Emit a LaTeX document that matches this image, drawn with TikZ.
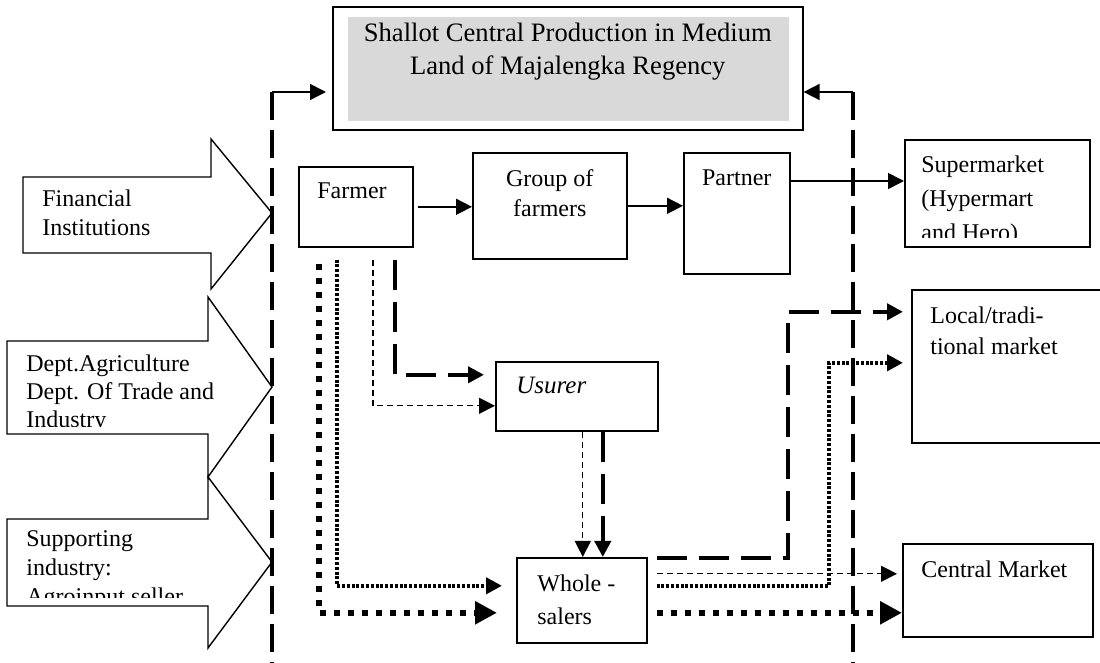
\documentclass[tikz,border=0pt]{standalone}
\usepackage{fontspec}
\setmainfont{Liberation Serif}
\usetikzlibrary{arrows.meta,positioning}
\definecolor{titlegray}{HTML}{D9D9D9}

\begin{document}
\begin{tikzpicture}[
    x = 0.5pt, y = -0.5pt, % pixel grid, y going down
    > = {Triangle[length=8pt,width=8pt]}, % arrow head style
    box/.style = {draw, line width=0.8pt, anchor=north west, inner sep=0pt},
    txt/.style = {font=\fontsize{12}{15}\selectfont, inner sep=0pt, align=left},
    flow/.style = {line width=0.8pt},
    boundary/.style = {line width=2.3pt, dash pattern=on 14pt off 5pt},
    longdash/.style = {line width=2.2pt, dash pattern=on 15pt off 6pt},
    thindash/.style = {line width=0.6pt, dash pattern=on 3pt off 2pt},
    densedot/.style = {line width=2pt, dash pattern=on 1.5pt off 0.9pt},
    bigdot/.style = {line width=3pt, dash pattern=on 3pt off 4pt},
    bigarrow/.style = {draw, line width=0.7pt, fill=white}
  ]
  \useasboundingbox (0,0) rectangle (1100,663);

  % supporting institutions
  \draw[bigarrow] (23,177) -- (211,177) -- (211,139) -- (272,213) -- (211,289) -- (211,253) -- (23,253) -- cycle;
  \draw[bigarrow] (7,341) -- (208,341) -- (208,297) -- (272,387) -- (208,477) -- (208,434) -- (7,434) -- cycle;
  \draw[bigarrow] (7,519) -- (208,519) -- (208,477) -- (272,562) -- (208,648) -- (208,606) -- (7,606) -- cycle;
  \node[txt, font=\fontsize{12}{14.5}\selectfont, anchor=north west] (fin) at (42,189) {Financial\\Institutions};
  \begin{scope}
    \clip (0,300) rectangle (260,427);
    \node[txt, font=\fontsize{12}{14}\selectfont, anchor=north west] (dept) at (26,354) {Dept.Agriculture\\Dept. Of Trade and\\Industry};
  \end{scope}
  \begin{scope}
    \clip (0,480) rectangle (260,598);
    \node[txt, font=\fontsize{12}{14.5}\selectfont, anchor=north west] (supp) at (26,530) {Supporting\\industry:\\Agroinput seller};
  \end{scope}

  % production centre
  \node[box, minimum width=235pt, minimum height=61.5pt] (title) at (332,6) {};
  \fill[titlegray] ([shift={(8pt,-5.5pt)}]title.north west) rectangle ([shift={(-7.5pt,5pt)}]title.south east);
  \node[txt, font=\fontsize{13.3}{16.5}\selectfont, align=center, below=8.5pt of title.north] {Shallot Central Production in Medium\\Land of Majalengka Regency};

  % region boundary
  \coordinate (lb) at (272,663);
  \coordinate (lt) at (272,92);
  \coordinate (rb) at (853,663);
  \coordinate (rt) at (853,92);
  \draw[boundary] (lt) -- (lb);
  \draw[boundary] (rt) -- (rb);
  \draw[flow,->,shorten >=3pt] (lt) -- (lt -| title.west);
  \draw[flow,->] (rt) -- (rt -| title.east);

  % actors
  \node[box, minimum width=57pt, minimum height=40pt] (farmer) at (298,166) {};
  \node[box, minimum width=77pt, minimum height=53pt] (group) at (472,152) {};
  \node[box, minimum width=53pt, minimum height=60.5pt] (partner) at (683,152) {};
  \node[box, minimum width=92.5pt, minimum height=53.5pt] (super) at (904,139) {};
  \node[box, minimum width=81pt, minimum height=34.5pt] (usurer) at (495,361) {};
  \node[box, minimum width=65pt, minimum height=42.5pt] (whole) at (516,557) {};
  \node[box, minimum width=97.5pt, minimum height=76.5pt] (local) at (911,289) {};
  \node[box, minimum width=95pt, minimum height=46.5pt] (central) at (902,543) {};

  \node[txt, below right=8pt and 9.5pt of farmer.north west] {Farmer};
  \node[txt, align=center, below=8.5pt of group.north] {Group of\\farmers};
  \node[txt, below=8.5pt of partner.north] {Partner};
  \begin{scope}
    \clip (super.north west) rectangle ([yshift=5pt]super.south east);
    \node[txt, font=\fontsize{12}{17}\selectfont, below right=8pt and 8.5pt of super.north west] {Supermarket\\(Hypermart\\and Hero)};
  \end{scope}
  \node[txt, font=\fontsize{12.5}{15}\itshape, below right=8pt and 10.5pt of usurer.north west] {Usurer};
  \node[txt, font=\fontsize{12}{16.5}\selectfont, below right=8.5pt and 10.5pt of whole.north west] {Whole -\\salers};
  \node[txt, font=\fontsize{12}{15.5}\selectfont, below right=8.5pt and 9.5pt of local.north west] {Local/tradi-\\tional market};
  \node[txt, below right=8.5pt and 9.5pt of central.north west] {Central Market};

  % channels
  \coordinate (pout) at ([yshift=-14.5pt]partner.north east);
  \draw[flow,->,shorten <=2pt] (farmer.east) -- (farmer.east -| group.west);
  \draw[flow,->] (group.east) -- (group.east -| partner.west);
  \draw[flow,->] (pout) -- (pout -| super.west);

  \draw[bigdot,->,>={Triangle[length=11pt,width=11pt]},shorten >=9.5pt] ([xshift=10.5pt,yshift=-8pt]farmer.south west) |- ([yshift=-6.25pt]whole.west);
  \draw[densedot,->,shorten >=7pt] ([xshift=19.5pt,yshift=-6pt]farmer.south west) |- ([yshift=7.25pt]whole.west);
  \draw[thindash,->] ([xshift=37.5pt,yshift=-6pt]farmer.south west) |- ([yshift=-4.75pt]usurer.west);
  \draw[longdash,->,shorten >=5.5pt] ([xshift=48.5pt,yshift=-6pt]farmer.south west) |- ([yshift=10.75pt]usurer.west);

  \draw[thindash,->] ([xshift=3pt]usurer.south) -- ([xshift=0.5pt]whole.north);
  \draw[longdash,->] ([xshift=13pt]usurer.south) -- ([xshift=10.5pt]whole.north);

  \draw[longdash,->,shorten <=4.5pt,shorten >=4pt] ([yshift=21.25pt]whole.east) -| ([xshift=-61.5pt,yshift=27.25pt]local.west) -- ([yshift=27.25pt]local.west);
  \draw[thindash,->,shorten <=4.5pt,shorten >=2.5pt] ([yshift=13.25pt]whole.east) -- ([yshift=8.25pt]central.west);
  \draw[densedot,->,shorten <=4.5pt,shorten >=4pt] ([yshift=7.25pt]whole.east) -| ([xshift=-41pt,yshift=1.75pt]local.west) -- ([yshift=1.75pt]local.west);
  \draw[bigdot,->,>={Triangle[length=11pt,width=11pt]},shorten <=4.5pt] ([yshift=-6.25pt]whole.east) -- ([yshift=-11.25pt]central.west);
\end{tikzpicture}
\end{document}
